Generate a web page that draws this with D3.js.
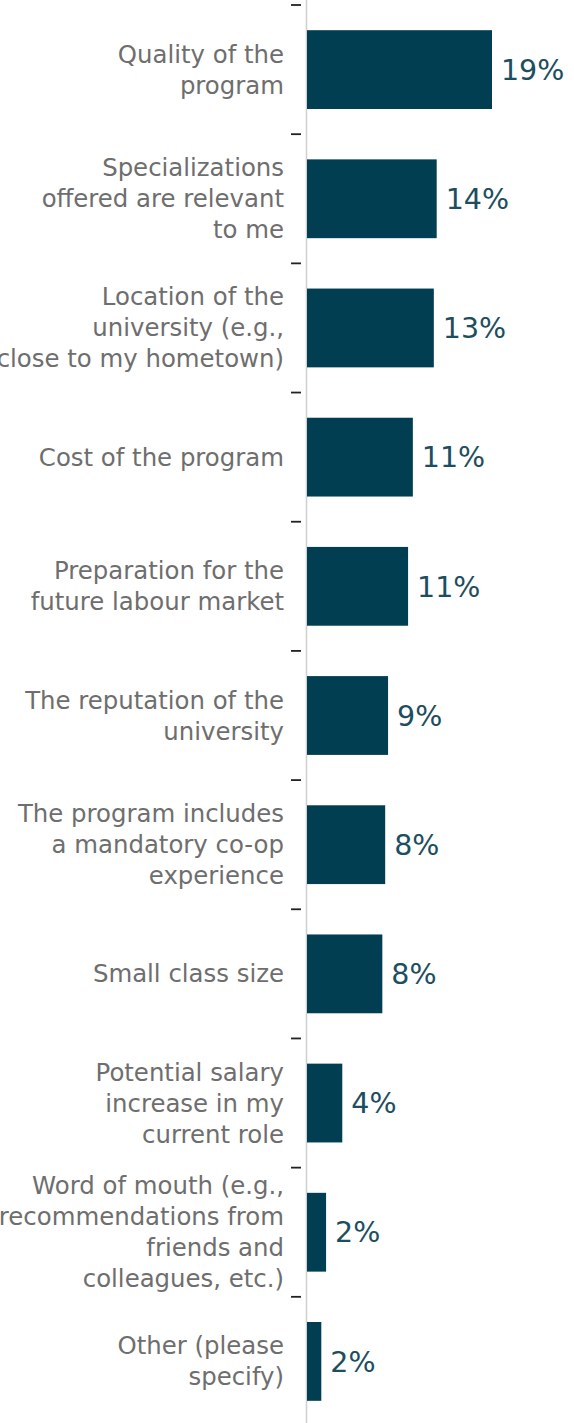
<!DOCTYPE html>
<html>
<head>
<meta charset="utf-8">
<script src="https://cdn.jsdelivr.net/npm/d3@7"></script>
<style>
  html, body { margin: 0; padding: 0; background: #ffffff; }
  svg { display: block; }
  text { font-family: "DejaVu Sans", Verdana, sans-serif; }
</style>
</head>
<body>
<div id="chart"></div>
<script>
// Reasons for choosing the program (share of respondents, %)
const categories = [
  "Quality of the\nprogram",
  "Specializations\noffered are relevant\nto me",
  "Location of the\nuniversity (e.g.,\nclose to my hometown)",
  "Cost of the program",
  "Preparation for the\nfuture labour market",
  "The reputation of the\nuniversity",
  "The program includes\na mandatory co-op\nexperience",
  "Small class size",
  "Potential salary\nincrease in my\ncurrent role",
  "Word of mouth (e.g.,\nrecommendations from\nfriends and\ncolleagues, etc.)",
  "Other (please\nspecify)"
];
const values = [19.4, 13.6, 13.3, 11.1, 10.6, 8.5, 8.2, 7.9, 3.7, 2.0, 1.5];

const width = 574, height = 1423;
const margin = { top: 5, left: 307 };

const svg = d3.select("#chart").append("svg")
  .attr("width", width)
  .attr("height", height);

const x = d3.scaleLinear().domain([0, 28]).range([margin.left, width]);

const y = d3.scaleBand()
  .domain(categories)
  .range([margin.top, margin.top + 1421])
  .paddingInner(0.39)
  .paddingOuter(0.195);

const step = y.step();

// axis line
svg.append("line")
  .attr("x1", margin.left - 0.5).attr("x2", margin.left - 0.5)
  .attr("y1", 0).attr("y2", height)
  .attr("stroke", "#cfcfcf")
  .attr("stroke-width", 1.5);

// tick marks between categories
const boundaries = categories.map(c => y(c) - y.paddingInner() * step / 2);
svg.append("g").selectAll("line")
  .data(boundaries)
  .join("line")
  .attr("x1", 291).attr("x2", 301)
  .attr("y1", d => d).attr("y2", d => d)
  .attr("stroke", "#222")
  .attr("stroke-width", 1.8);

// bars
svg.append("g").selectAll("rect")
  .data(values)
  .join("rect")
  .attr("x", x(0))
  .attr("y", (d, i) => y(categories[i]))
  .attr("width", d => x(d) - x(0))
  .attr("height", y.bandwidth())
  .attr("fill", "#023e51");

// value labels
svg.append("g").selectAll("text")
  .data(values)
  .join("text")
  .attr("x", d => x(d) + 9)
  .attr("y", (d, i) => y(categories[i]) + y.bandwidth() / 2)
  .attr("dy", "0.36em")
  .attr("fill", "#1d4e60")
  .attr("font-size", 28.5)
  .text(d => Math.round(d) + "%");

// category labels
const lineHeight = 31;
const labels = svg.append("g").selectAll("text")
  .data(categories)
  .join("text")
  .attr("text-anchor", "end")
  .attr("fill", "#6e6e6e")
  .attr("font-size", 24.4)
  .attr("y", c => y(c) + y.bandwidth() / 2);

labels.each(function (c) {
  const lines = c.split("\n");
  const t = d3.select(this);
  const off = -(lines.length - 1) / 2 * lineHeight;
  lines.forEach((ln, j) => {
    t.append("tspan")
      .attr("x", 284)
      .attr("dy", j === 0 ? (off + 8.5) : lineHeight)
      .text(ln);
  });
});
</script>
</body>
</html>
